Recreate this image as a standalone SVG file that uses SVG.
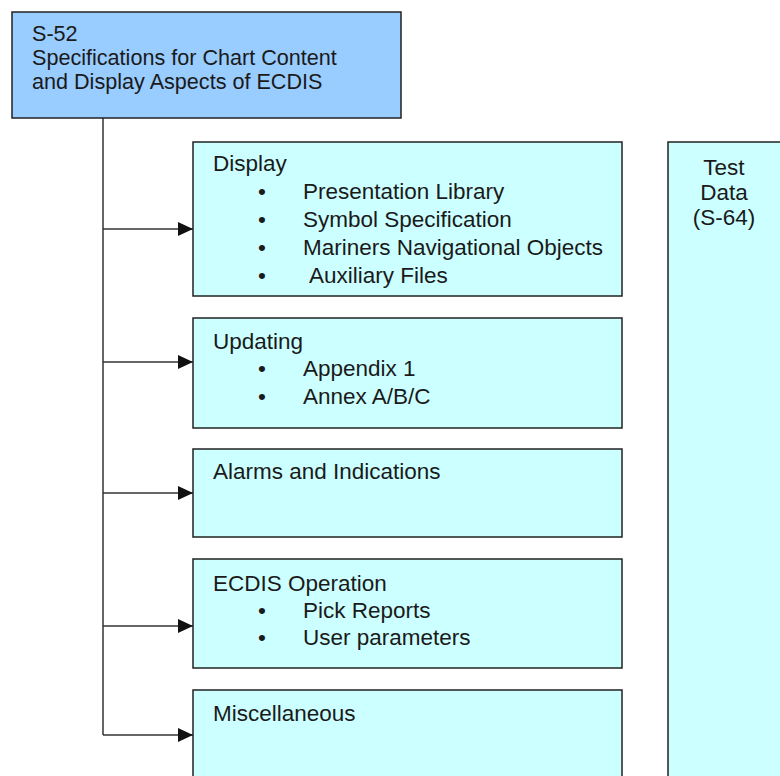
<svg xmlns="http://www.w3.org/2000/svg" width="780" height="776" viewBox="0 0 780 776">
<defs>
<style>
.t{font-family:"Liberation Sans",Arial,sans-serif;font-size:22.5px;fill:#1a1a1a}
.h{font-size:21.6px}
.td{font-family:"Liberation Sans",Arial,sans-serif;font-size:22.5px;fill:#1a1a1a;text-anchor:middle}
.b{text-anchor:middle}
.top{fill:#99ccff;stroke:#222;stroke-width:1.5}
.box{fill:#ccffff;stroke:#222;stroke-width:1.5}
.c{fill:none;stroke:#333;stroke-width:1.5}
</style>
<marker id="ah" markerUnits="userSpaceOnUse" markerWidth="15" markerHeight="14" refX="15" refY="7" orient="auto">
<path d="M0,0 L15,7 L0,14 Z" fill="#111"/>
</marker>
</defs>
<rect width="780" height="776" fill="#fff"/>
<g id="connectors">
<path class="c" d="M103,118 V735"/>
<path class="c" d="M103,229 H193" marker-end="url(#ah)"/>
<path class="c" d="M103,362 H193" marker-end="url(#ah)"/>
<path class="c" d="M103,493 H193" marker-end="url(#ah)"/>
<path class="c" d="M103,626 H193" marker-end="url(#ah)"/>
<path class="c" d="M103,735 H193" marker-end="url(#ah)"/>
</g>
<g id="s52">
<rect class="top" x="12" y="12" width="389" height="106"/>
<text class="t h" x="32" y="41">S-52</text>
<text class="t h" x="32" y="65">Specifications for Chart Content</text>
<text class="t h" x="32" y="89">and Display Aspects of ECDIS</text>
</g>
<g id="display">
<rect class="box" x="193" y="142" width="429" height="154"/>
<text class="t" x="213" y="171">Display</text>
<text class="t b" x="262" y="199">•</text><text class="t" x="303" y="199">Presentation Library</text>
<text class="t b" x="262" y="227">•</text><text class="t" x="303" y="227">Symbol Specification</text>
<text class="t b" x="262" y="255">•</text><text class="t" x="303" y="255">Mariners Navigational Objects</text>
<text class="t b" x="262" y="283">•</text><text class="t" x="309" y="283">Auxiliary Files</text>
</g>
<g id="updating">
<rect class="box" x="193" y="318" width="429" height="110"/>
<text class="t" x="213" y="349">Updating</text>
<text class="t b" x="262" y="376">•</text><text class="t" x="303" y="376">Appendix 1</text>
<text class="t b" x="262" y="404">•</text><text class="t" x="303" y="404">Annex A/B/C</text>
</g>
<g id="alarms">
<rect class="box" x="193" y="449" width="429" height="88"/>
<text class="t" x="213" y="479">Alarms and Indications</text>
</g>
<g id="operation">
<rect class="box" x="193" y="559" width="429" height="109"/>
<text class="t" x="213" y="591">ECDIS Operation</text>
<text class="t b" x="262" y="618">•</text><text class="t" x="303" y="618">Pick Reports</text>
<text class="t b" x="262" y="645">•</text><text class="t" x="303" y="645">User parameters</text>
</g>
<g id="misc">
<rect class="box" x="193" y="690" width="429" height="100"/>
<text class="t" x="213" y="721">Miscellaneous</text>
</g>
<g id="testdata">
<rect class="box" x="668" y="142" width="130" height="650"/>
<text class="td" x="724" y="175">Test</text>
<text class="td" x="724" y="200">Data</text>
<text class="td" x="724" y="225">(S-64)</text>
</g>
</svg>
